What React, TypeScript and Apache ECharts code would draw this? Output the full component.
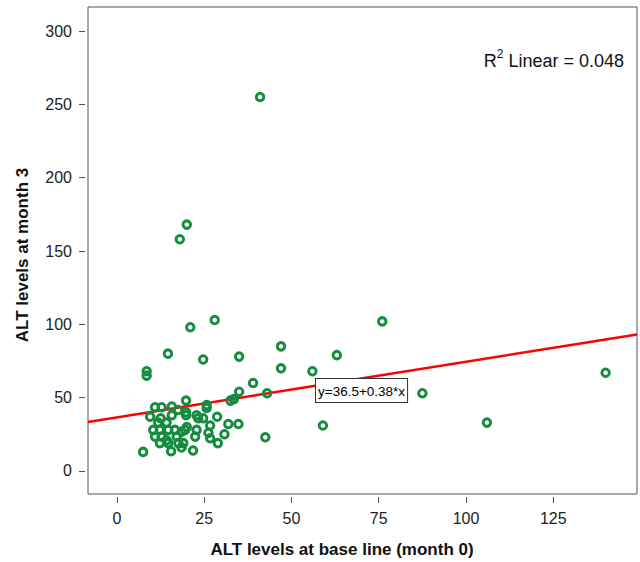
import React, { useEffect, useRef } from "react";
import * as echarts from "echarts";

const baseLine: number[] = [
  41, 20, 18, 28, 21, 76, 47, 63, 14.6, 24.7, 35, 8.5, 8.5, 47, 56, 39, 35, 33.5, 32.5, 43, 87.5, 140, 106, 59, 42.5,
  25.7, 25.7, 19.8, 19.8, 19.8, 15.7, 15.7, 10.9, 12.8, 9.5, 12.5, 23.3, 24.7, 28.7, 22.8,
  11.8, 14.2, 10.4, 12.3, 14.7, 16.6, 19.5, 20, 22.8, 26.7, 31.9, 34.8, 26.2, 30.8,
  10.9, 12.8, 14.2, 17.1, 18.5, 22.4, 26.7, 12.3, 14.7, 17.6, 19, 28.9, 18.5, 7.5, 15.5, 21.8, 17.5,
];
const month3: number[] = [
  255, 168, 158, 103, 98, 102, 85, 79, 80, 76, 78, 68, 65, 70, 68, 60, 54, 49, 48, 53, 53, 67, 33, 31, 23,
  45, 43, 48, 40, 38, 44, 38, 43.5, 43.5, 37, 36, 36, 36, 37, 38,
  33, 33, 28, 28, 28, 28, 28, 30, 28, 31, 32, 32, 26, 25,
  23.4, 23.4, 21, 23.4, 26.8, 23.4, 22.3, 19, 19, 19, 19, 19, 16, 13, 13.5, 14, 41.6,
];
const xTicks: number[] = [0, 25, 50, 75, 100, 125];
const yTicks: number[] = [0, 50, 100, 150, 200, 250, 300];
const fitIntercept = 36.5;
const fitSlope = 0.38;
const rSquared = "0.048";
const xRange: number[] = [-8.3, 149];
const yRange: number[] = [-15.7, 316.4];

export default function App() {
  const ref = useRef<HTMLDivElement>(null);
  useEffect(() => {
    if (!ref.current) return;
    const chart = echarts.init(ref.current, undefined, { renderer: "svg" });
    const font = "'Liberation Sans', Arial, sans-serif";
    const pts = baseLine.map((x, i) => [x, month3[i]]);
    const fitLine = xRange.map((x) => [x, fitIntercept + fitSlope * x]);
    chart.setOption({
      animation: false,
      textStyle: { fontFamily: font },
      grid: {
        left: 88, right: 3, top: 7, bottom: 68,
        show: true, borderColor: "#555", borderWidth: 1, backgroundColor: "#fff",
      },
      xAxis: {
        type: "value", min: xRange[0], max: xRange[1], offset: 3,
        axisLine: { show: false, onZero: false },
        splitLine: { show: false },
        axisTick: { show: true, length: 6, lineStyle: { color: "#555" }, customValues: xTicks },
        axisLabel: { customValues: xTicks, fontSize: 16, color: "#222", margin: 13, fontFamily: font },
      },
      yAxis: {
        type: "value", min: yRange[0], max: yRange[1], offset: 3,
        axisLine: { show: false, onZero: false },
        splitLine: { show: false },
        axisTick: { show: true, length: 6, lineStyle: { color: "#555" }, customValues: yTicks },
        axisLabel: { customValues: yTicks, fontSize: 16, color: "#222", margin: 13, fontFamily: font },
      },
      series: [
        {
          type: "line",
          data: fitLine,
          symbol: "none",
          lineStyle: { color: "#ff0000", width: 2.5 },
          z: 3,
        },
        {
          type: "scatter",
          data: pts,
          symbol: "circle",
          symbolSize: 7.5,
          itemStyle: { color: "rgba(255,255,255,0)", borderColor: "#168c40", borderWidth: 3, opacity: 1 },
          z: 4,
        },
      ],
      graphic: [
        {
          type: "text",
          left: 315,
          top: 378,
          z: 10,
          style: {
            text: `y=${fitIntercept}+${fitSlope}*x`,
            font: `13.5px ${font}`,
            fill: "#000",
            backgroundColor: "#fff",
            borderColor: "#333",
            borderWidth: 1,
            padding: [5, 2, 4, 2],
          },
        },
        {
          type: "text",
          right: 16,
          top: 48,
          z: 10,
          style: {
            text: `{n|R}{s|2}{n| Linear = ${rSquared}}`,
            rich: {
              n: { fontSize: 18, fontFamily: font, fill: "#111", verticalAlign: "bottom", lineHeight: 22 },
              s: { fontSize: 12, fontFamily: font, fill: "#111", verticalAlign: "top", lineHeight: 14, padding: [0, 0, 8, 0] },
            },
          },
        },
        {
          type: "text",
          x: 342,
          y: 549,
          style: {
            text: "ALT levels at base line (month 0)",
            font: `bold 17px ${font}`,
            fill: "#111",
            align: "center",
            verticalAlign: "middle",
          },
        },
        {
          type: "text",
          x: 22,
          y: 255,
          rotation: Math.PI / 2,
          style: {
            text: "ALT levels at month 3",
            font: `bold 17px ${font}`,
            fill: "#111",
            align: "center",
            verticalAlign: "middle",
          },
        },
      ],
    });
    return () => chart.dispose();
  }, []);
  return <div ref={ref} style={{ width: 640, height: 562, position: "absolute", left: 0, top: 0 }} />;
}
